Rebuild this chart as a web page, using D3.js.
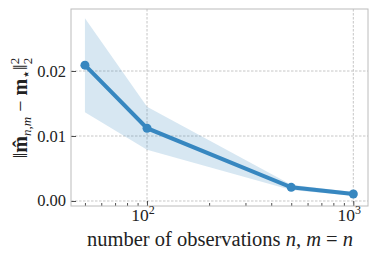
<!DOCTYPE html>
<html>
<head>
<meta charset="utf-8">
<script src="https://cdn.jsdelivr.net/npm/d3@7"></script>
<style>
body { margin: 0; background: #fff; }
text { font-family: "Liberation Serif", serif; fill: #222; }
</style>
</head>
<body>
<script>
var width = 378;
var height = 260;

var nObs = [50, 100, 500, 1000];
var errMean = [0.0209, 0.0112, 0.0021, 0.00108];
var errLow = [0.01365, 0.0079, 0.0017, 0.0008];
var errHigh = [0.0281, 0.0145, 0.0025, 0.0014];
var yTicks = [0, 0.01, 0.02];
var yTickLabels = ["0.00", "0.01", "0.02"];
var xMajor = [100, 1000];

var padL = 71, padR = 368, padT = 9, padB = 206;
var blue = "#3787c0";

var svg = d3.select("body")
    .append("svg")
    .attr("width", width)
    .attr("height", height);

var x = d3.scaleLog()
    .domain([42.8, 1178])
    .range([padL, padR]);

var y = d3.scaleLinear()
    .domain([-0.00077, 0.02954])
    .range([padB, padT]);

// grid
var grid = svg.append("g")
    .attr("stroke", "#b8b8b8")
    .attr("stroke-width", 0.8)
    .attr("stroke-dasharray", "2.5,1.5");

grid.selectAll(".gx")
    .data(xMajor)
    .enter().append("line")
    .attr("x1", function(d) { return x(d); })
    .attr("x2", function(d) { return x(d); })
    .attr("y1", padT)
    .attr("y2", padB);

grid.selectAll(".gy")
    .data(yTicks)
    .enter().append("line")
    .attr("x1", padL)
    .attr("x2", padR)
    .attr("y1", function(d) { return y(d); })
    .attr("y2", function(d) { return y(d); });

// band
var area = d3.area()
    .x(function(d, i) { return x(nObs[i]); })
    .y0(function(d, i) { return y(errLow[i]); })
    .y1(function(d, i) { return y(errHigh[i]); });

svg.append("path")
    .datum(nObs)
    .attr("d", area)
    .attr("fill", blue)
    .attr("fill-opacity", 0.2);

// line + markers
var line = d3.line()
    .x(function(d, i) { return x(nObs[i]); })
    .y(function(d) { return y(d); });

svg.append("path")
    .datum(errMean)
    .attr("d", line)
    .attr("fill", "none")
    .attr("stroke", blue)
    .attr("stroke-width", 4);

svg.selectAll(".pt")
    .data(errMean)
    .enter().append("circle")
    .attr("cx", function(d, i) { return x(nObs[i]); })
    .attr("cy", function(d) { return y(d); })
    .attr("r", 4.5)
    .attr("fill", blue);

// axes with inward ticks
var xAxis = d3.axisBottom(x)
    .tickValues(d3.range(50, 100, 10).concat(d3.range(200, 1000, 100)))
    .tickSize(-3)
    .tickFormat("");

svg.append("g")
    .attr("transform", "translate(0," + padB + ")")
    .call(xAxis)
    .call(function(g) { g.select(".domain").remove(); })
    .selectAll("line").attr("stroke", "#222").attr("stroke-width", 0.8);

var xAxisMajor = d3.axisBottom(x)
    .tickValues(xMajor)
    .tickSize(-5)
    .tickFormat("");

svg.append("g")
    .attr("transform", "translate(0," + padB + ")")
    .call(xAxisMajor)
    .call(function(g) { g.select(".domain").remove(); })
    .selectAll("line").attr("stroke", "#222").attr("stroke-width", 0.8);

var yAxis = d3.axisLeft(y)
    .tickValues(yTicks)
    .tickSize(-5)
    .tickFormat("");

svg.append("g")
    .attr("transform", "translate(" + padL + ",0)")
    .call(yAxis)
    .call(function(g) { g.select(".domain").remove(); })
    .selectAll("line").attr("stroke", "#222").attr("stroke-width", 0.8);

// spines
svg.append("rect")
    .attr("x", padL)
    .attr("y", padT)
    .attr("width", padR - padL)
    .attr("height", padB - padT)
    .attr("fill", "none")
    .attr("stroke", "#bcbcbc")
    .attr("stroke-width", 1);

// tick labels
svg.selectAll(".yl")
    .data(yTicks)
    .enter().append("text")
    .attr("x", 66)
    .attr("y", function(d) { return y(d) + 5.5; })
    .attr("text-anchor", "end")
    .style("font-size", "16.5px")
    .text(function(d, i) { return yTickLabels[i]; });

var xl = svg.selectAll(".xl")
    .data(xMajor)
    .enter().append("text")
    .attr("x", function(d) { return x(d) - 4; })
    .attr("y", 221)
    .attr("text-anchor", "middle")
    .style("font-size", "17.5px");
xl.append("tspan").text("10");
xl.append("tspan")
    .attr("dy", -7)
    .style("font-size", "12px")
    .text(function(d) { return Math.log10(d); });

// x label
var xt = svg.append("text")
    .attr("x", 220)
    .attr("y", 246)
    .attr("text-anchor", "middle")
    .style("font-size", "20.5px");
xt.append("tspan").text("number of observations ");
xt.append("tspan").style("font-style", "italic").text("n");
xt.append("tspan").text(", ");
xt.append("tspan").style("font-style", "italic").text("m");
xt.append("tspan").text(" = ");
xt.append("tspan").style("font-style", "italic").text("n");

// y label
var yt = svg.append("text")
    .attr("transform", "translate(27,108) rotate(-90)")
    .attr("text-anchor", "middle")
    .style("font-size", "20px");
yt.append("tspan").text("\u2016");
yt.append("tspan").style("font-weight", "bold").text("m\u0302");
yt.append("tspan").attr("dy", 4).style("font-style", "italic").style("font-size", "13px").text("n,m");
yt.append("tspan").attr("dy", -4).text(" \u2212 ");
yt.append("tspan").style("font-weight", "bold").text("m");
yt.append("tspan").attr("dy", 4).style("font-size", "15px").text("\u22c6");
yt.append("tspan").attr("dy", -4).text("\u2016");
yt.append("tspan").attr("dy", -8).style("font-size", "13px").text("2");
yt.append("tspan").attr("dx", -6.5).attr("dy", 13).style("font-size", "13px").text("2");
</script>
</body>
</html>
